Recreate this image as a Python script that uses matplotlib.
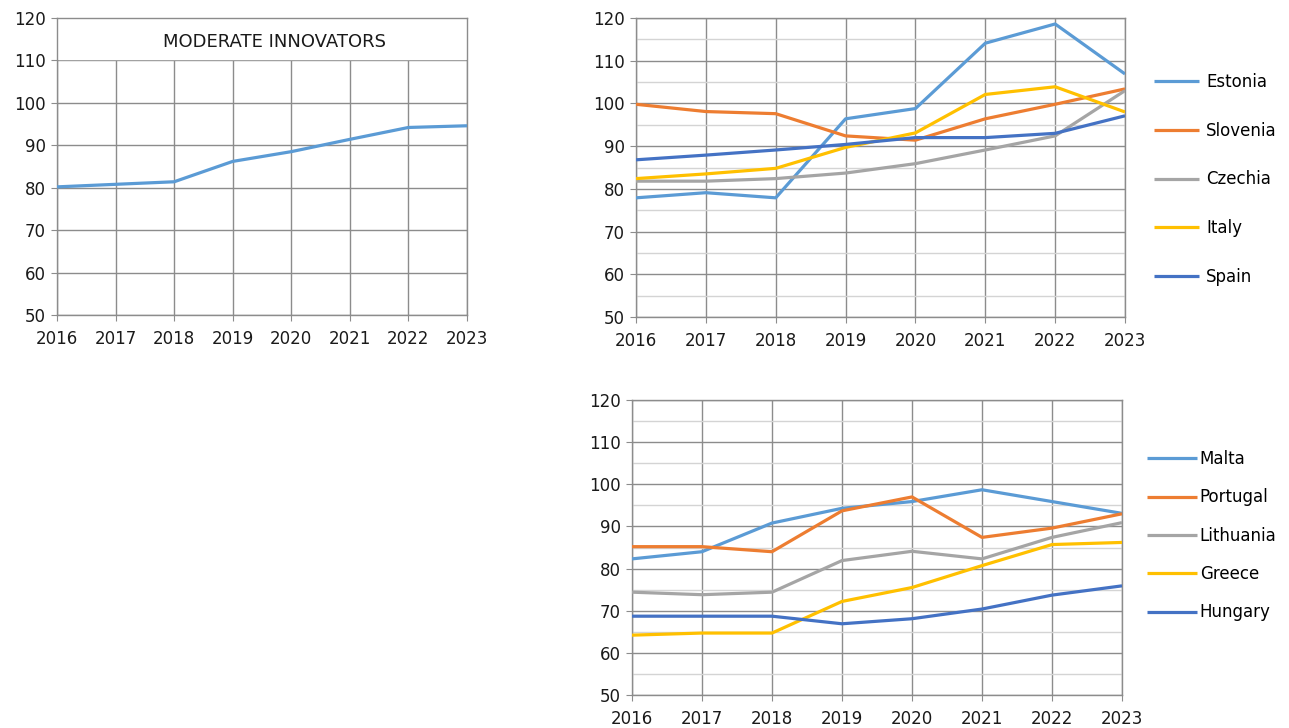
import matplotlib
matplotlib.use('Agg')
import matplotlib.pyplot as plt
from matplotlib.ticker import MultipleLocator

plt.rcParams['font.family'] = ['DejaVu Sans']
plt.rcParams['font.size'] = 12

years = [2016, 2017, 2018, 2019, 2020, 2021, 2022, 2023]

moderate = [80.2, 80.8, 81.4, 86.2, 88.5, 91.4, 94.2, 94.6]

top_names = ['Estonia', 'Slovenia', 'Czechia', 'Italy', 'Spain']
estonia = [77.9, 79.1, 77.9, 96.4, 98.8, 114.1, 118.6, 106.9]
slovenia = [99.8, 98.1, 97.6, 92.4, 91.4, 96.4, 99.8, 103.4]
czechia = [81.8, 81.8, 82.4, 83.7, 85.9, 89.1, 92.4, 103.0]
italy = [82.4, 83.5, 84.8, 89.7, 93.1, 102.1, 103.9, 98.0]
spain = [86.8, 87.9, 89.1, 90.4, 92.0, 92.0, 93.0, 97.1]

bottom_names = ['Malta', 'Portugal', 'Lithuania', 'Greece', 'Hungary']
malta = [82.3, 84.0, 90.8, 94.3, 95.9, 98.7, 95.9, 93.1]
portugal = [85.2, 85.2, 84.0, 93.7, 97.0, 87.4, 89.6, 93.0]
lithuania = [74.4, 73.8, 74.4, 81.9, 84.1, 82.3, 87.4, 90.9]
greece = [64.2, 64.7, 64.7, 72.2, 75.5, 80.7, 85.7, 86.2]
hungary = [68.7, 68.7, 68.7, 66.9, 68.1, 70.4, 73.7, 75.9]

colors = ['#5B9BD5', '#ED7D31', '#A5A5A5', '#FFC000', '#4472C4']
lw = 2.3


def style(ax, minor=True):
    ax.set_xlim(2016, 2023)
    ax.set_ylim(50, 120)
    ax.xaxis.set_major_locator(MultipleLocator(1))
    ax.yaxis.set_major_locator(MultipleLocator(10))
    ax.grid(True, which='major', color='#8C8C8C', linewidth=1.0)
    if minor:
        ax.yaxis.set_minor_locator(MultipleLocator(5))
        ax.grid(True, which='minor', axis='y', color='#D4D4D4', linewidth=1.0)
        ax.tick_params(which='minor', length=0)
    for s in ax.spines.values():
        s.set_color('#8C8C8C')
        s.set_linewidth(1.0)
    ax.tick_params(which='major', length=4, color='#8C8C8C', labelsize=12,
                   labelcolor='#1a1a1a')
    ax.tick_params(axis='x', pad=7)
    ax.tick_params(axis='y', pad=4)


fig = plt.figure(figsize=(12.89, 7.28), dpi=100)
W, H = 1289.0, 728.0


def add_ax(l, r, t, b):
    return fig.add_axes([l / W, 1 - b / H, (r - l) / W, (b - t) / H])


ax1 = add_ax(57, 467, 18, 315)
style(ax1, minor=False)
ax1.plot(years, moderate, color=colors[0], lw=lw, solid_capstyle='butt', zorder=3)
ax1.axhspan(110.3, 119.8, xmin=0.003, xmax=0.997, color='white', zorder=1.6)
ax1.text(0.53, 0.918, 'MODERATE INNOVATORS', transform=ax1.transAxes,
         ha='center', va='center', fontsize=13, color='#1a1a1a', zorder=4)

ax2 = add_ax(636, 1125, 18, 317)
style(ax2)
for name, vals, c in zip(top_names, [estonia, slovenia, czechia, italy, spain], colors):
    ax2.plot(years, vals, color=c, lw=lw, label=name, solid_capstyle='butt', zorder=3)
ax2.legend(loc='center left', bbox_to_anchor=(1.06, 0.46), frameon=False,
           handlelength=2.7, handletextpad=0.4, labelspacing=1.85, fontsize=12,
           borderaxespad=0, borderpad=0)

ax3 = add_ax(632, 1122, 400, 695)
style(ax3)
for name, vals, c in zip(bottom_names, [malta, portugal, lithuania, greece, hungary], colors):
    ax3.plot(years, vals, color=c, lw=lw, label=name, solid_capstyle='butt', zorder=3)
ax3.legend(loc='center left', bbox_to_anchor=(1.05, 0.54), frameon=False,
           handlelength=3.0, handletextpad=0.2, labelspacing=1.22, fontsize=12,
           borderaxespad=0, borderpad=0)

fig.savefig('out.png', dpi=100)
